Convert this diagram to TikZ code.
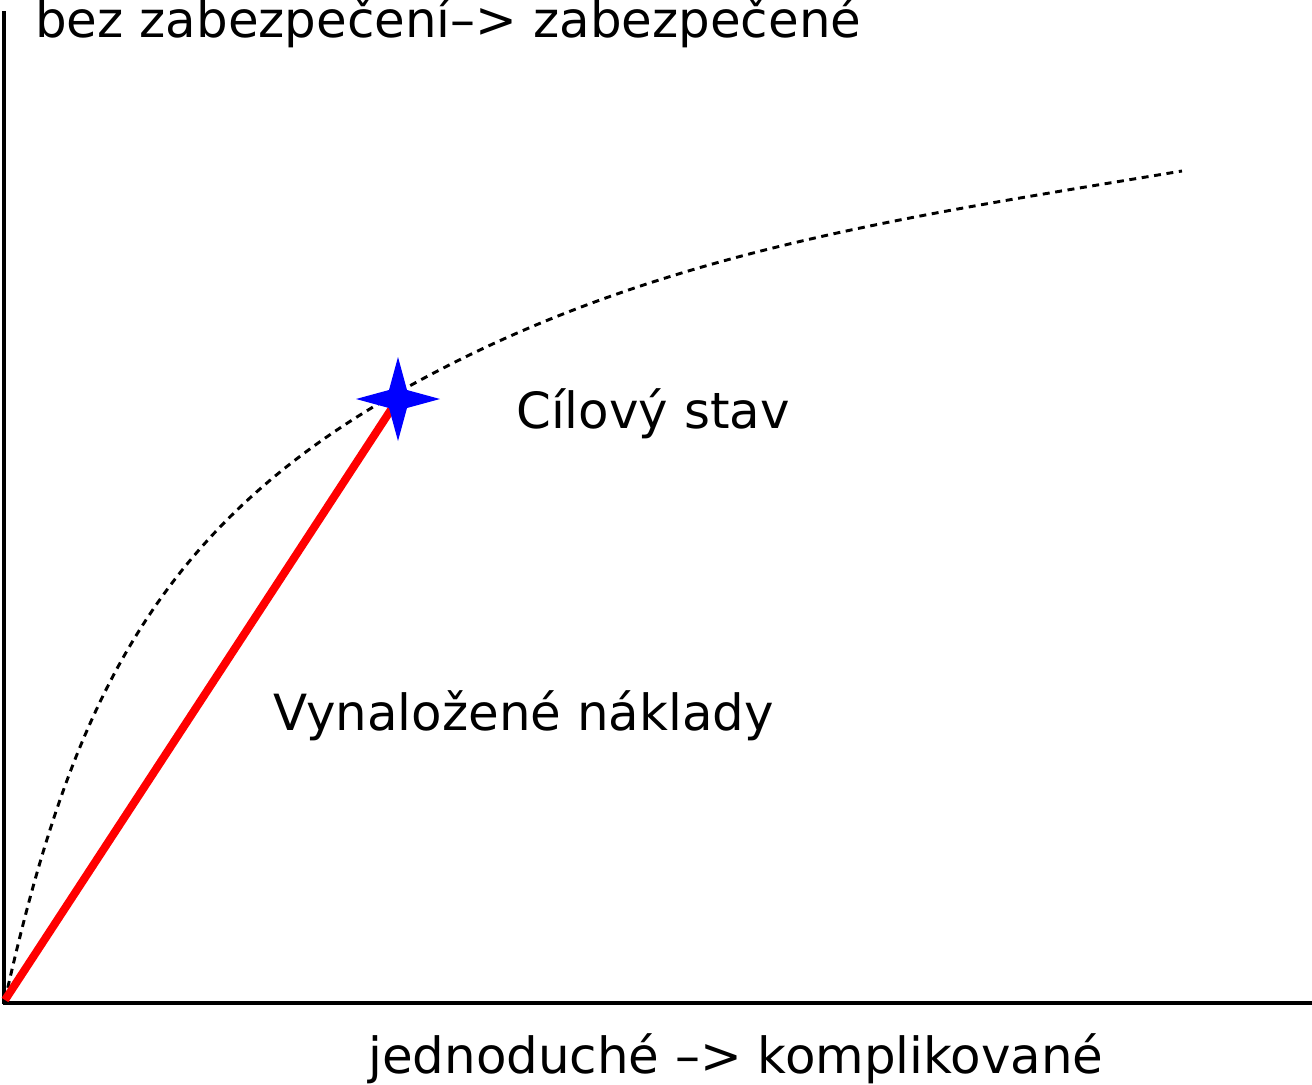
\documentclass[tikz,border=0pt]{standalone}
\usepackage{fontspec}
\setmainfont{DejaVu Sans}
\begin{document}
\begin{tikzpicture}[x=0.75pt,y=-0.75pt,
  axis/.style={line width=2.3pt,black},
  lbl/.style={anchor=base west,inner sep=0pt,font=\fontsize{37.4}{44}\selectfont},
  curve/.style={line width=2.2pt,dash pattern=on 5.2pt off 4.2pt},
  effort/.style={line width=6pt,red},
  target/.style={fill=blue}]
\useasboundingbox (0,0) rectangle (1312,1084);
\coordinate (O) at (5,1000);
\coordinate (ytop) at (4,11);
\coordinate (ybot) at (4,1004);
\coordinate (xend) at (1312,1003);
\coordinate (xstart) at (3,1003);
\coordinate (T) at (398,399);
\coordinate (M) at (397,393);
\coordinate (E) at (1182,171);
% axes
\draw[axis] (ybot) -- (ytop);
\draw[axis] (xstart) -- (xend);
% dotted curve
\draw[curve] (O) .. controls (68.5,717) and (148,534) .. (M)
  .. controls (645,252.5) and (901,218) .. (E);
% red line
\draw[effort] (O) -- (T);
% star
\fill[target,shift={(T)}] (0,-42) -- (9,-9) -- (42,0) -- (9,9) -- (0,42) -- (-9,9) -- (-42,0) -- (-9,-9) -- cycle;
% labels
\node[lbl] (ylab) at (35,38) {bez zabezpečení–> zabezpečené};
\node[lbl] (goal) at (516,428) {Cílový stav};
\node[lbl] (cost) at (273,730) {Vynaložené náklady};
\node[lbl] (xlab) at (368,1073) {jednoduché –> komplikované};
\end{tikzpicture}
\end{document}
